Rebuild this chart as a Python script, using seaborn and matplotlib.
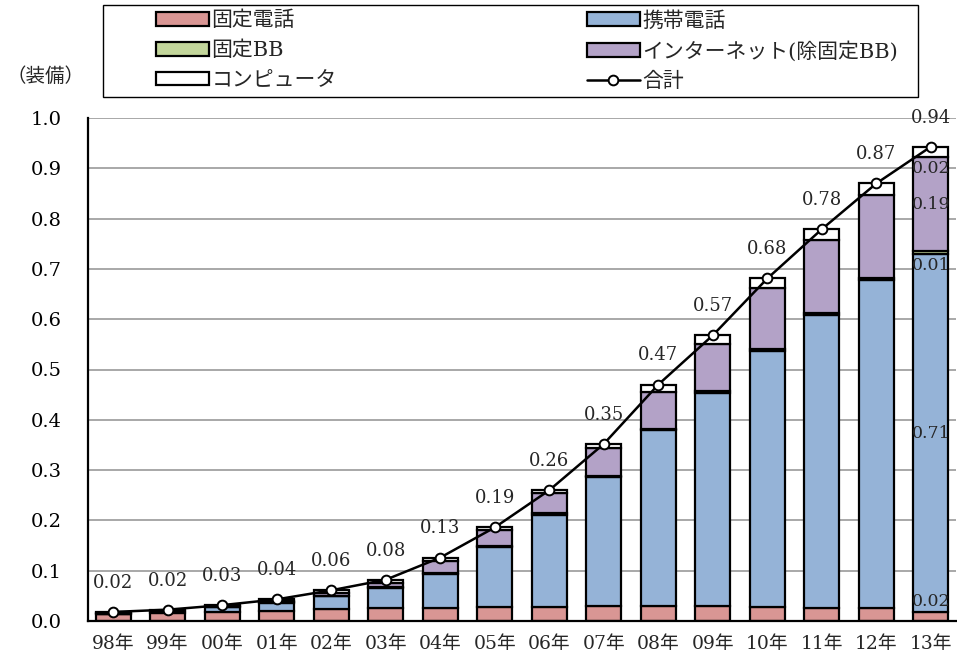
import numpy as np
import pandas as pd
import matplotlib
matplotlib.use("Agg")
import matplotlib.pyplot as plt
from matplotlib.patches import Patch, Rectangle
from matplotlib.lines import Line2D
import seaborn as sns

# ---- data -------------------------------------------------------------
years = ["98年", "99年", "00年", "01年", "02年", "03年", "04年", "05年",
         "06年", "07年", "08年", "09年", "10年", "11年", "12年", "13年"]

fixed_phone  = [0.013, 0.016, 0.018, 0.020, 0.023, 0.025, 0.025, 0.027,
                0.028, 0.030, 0.030, 0.029, 0.027, 0.026, 0.025, 0.018]
mobile_phone = [0.001, 0.003, 0.009, 0.016, 0.026, 0.041, 0.069, 0.120,
                0.183, 0.256, 0.349, 0.425, 0.509, 0.582, 0.652, 0.711]
fixed_bb     = [0.000, 0.0005, 0.0005, 0.001, 0.001, 0.002, 0.002, 0.003,
                0.003, 0.003, 0.003, 0.003, 0.004, 0.004, 0.004, 0.006]
internet     = [0.001, 0.001, 0.002, 0.003, 0.006, 0.008, 0.024, 0.031,
                0.040, 0.054, 0.073, 0.094, 0.123, 0.146, 0.166, 0.188]
computer     = [0.003, 0.002, 0.002, 0.003, 0.005, 0.006, 0.006, 0.005,
                0.006, 0.009, 0.015, 0.017, 0.018, 0.021, 0.023, 0.020]

series_names = ["固定電話", "携帯電話", "固定BB", "インターネット(除固定BB)", "コンピュータ"]
series_colors = ["#D99694", "#95B3D7", "#C3D69B", "#B3A2C7", "#FFFFFF"]
total_name = "合計"
y_ticks = [0.0, 0.1, 0.2, 0.3, 0.4, 0.5, 0.6, 0.7, 0.8, 0.9, 1.0]
unit_label = "（装備）"

# ---- style ------------------------------------------------------------
sns.set_style("white")
plt.rcParams["font.family"] = ["DejaVu Serif", "Noto Sans CJK JP"]
plt.rcParams["axes.unicode_minus"] = False

W, H = 957, 658
fig = plt.figure(figsize=(W / 100, H / 100), dpi=100)
ax = fig.add_axes([88 / W, 37 / H, (956 - 88) / W, (621 - 118) / H])

# ---- stacked bars -----------------------------------------------------
layers = [fixed_phone, mobile_phone, fixed_bb, internet, computer]
base = np.zeros(len(years))
bounds = []
for name, vals, col in zip(series_names, layers, series_colors):
    vals = np.asarray(vals, dtype=float)
    df = pd.DataFrame({"year": years, "value": vals})
    sns.barplot(data=df, x="year", y="value", color=col, saturation=1,
                width=0.64, bottom=base.copy(), edgecolor="black",
                linewidth=1.6, errorbar=None, ax=ax, zorder=2)
    bounds.append((base.copy(), base + vals))
    base = base + vals

totals = base

# ---- total line -------------------------------------------------------
pos = np.arange(len(years))
sns.lineplot(x=pos, y=totals, sort=False, color="black", linewidth=1.8,
             marker="o", markersize=7, markerfacecolor="white",
             markeredgecolor="black", markeredgewidth=1.4, ax=ax, zorder=5)

for x, t in zip(pos, totals):
    ax.annotate(f"{t:.2f}", (x, t), xytext=(0, 21), textcoords="offset points",
                ha="center", va="center", fontsize=13, zorder=6)

# ---- segment labels on the last bar ----------------------------------
last = len(years) - 1
lab_kw = dict(ha="center", fontsize=12.5, zorder=6)
lo, hi = bounds[0][0][last], bounds[0][1][last]
ax.text(last, hi + 0.004, f"{fixed_phone[last]:.2f}", va="bottom", **lab_kw)
lo, hi = bounds[1][0][last], bounds[1][1][last]
ax.text(last, (lo + hi) / 2, f"{mobile_phone[last]:.2f}", va="center", **lab_kw)
lo, hi = bounds[2][0][last], bounds[2][1][last]
ax.text(last, lo - 0.006, f"{fixed_bb[last]:.2f}", va="top", **lab_kw)
lo, hi = bounds[3][0][last], bounds[3][1][last]
ax.text(last, (lo + hi) / 2, f"{internet[last]:.2f}", va="center", **lab_kw)
lo, hi = bounds[4][0][last], bounds[4][1][last]
ax.text(last, lo - 0.006, f"{computer[last]:.2f}", va="top", **lab_kw)

# ---- axes -------------------------------------------------------------
ax.set_xlim(-0.46, len(years) - 0.54)
ax.set_ylim(0, 1.0)
ax.set_yticks(y_ticks)
ax.set_yticklabels([f"{v:.1f}" for v in y_ticks])
ax.set_xlabel("")
ax.set_ylabel("")
ax.set_xticks(pos)
ax.set_xticklabels(years)
ax.set_xticks(pos[:-1] + 0.5, minor=True)

ax.tick_params(axis="y", direction="in", length=5, width=1.5, pad=19,
               labelsize=14, colors="black")
ax.tick_params(axis="x", which="major", length=0, pad=10, labelsize=13.5)
ax.tick_params(axis="x", which="minor", direction="in", length=5, width=1.5)

ax.yaxis.grid(True, color="#9a9a9a", linewidth=1.2, zorder=0)
ax.set_axisbelow(True)
for side in ("top", "right"):
    ax.spines[side].set_visible(False)
for side in ("left", "bottom"):
    ax.spines[side].set_color("black")
    ax.spines[side].set_linewidth(1.6)

# ---- legend -----------------------------------------------------------
patches = [Patch(facecolor=c, edgecolor="black", linewidth=1.6, label=n)
           for n, c in zip(series_names, series_colors)]
total_handle = Line2D([], [], color="black", linewidth=1.8, marker="o",
                      markersize=7, markerfacecolor="white",
                      markeredgecolor="black", markeredgewidth=1.4,
                      label=total_name)
handles = [patches[0], patches[2], patches[4], patches[1], patches[3], total_handle]
fig.legend(handles=handles, labels=[h.get_label() for h in handles], ncol=2,
           loc="center", mode="expand", frameon=False, fontsize=15,
           bbox_to_anchor=(152 / W, (H - 96) / H, (902 - 152) / W, 90 / H),
           handlelength=2.55, handleheight=0.65, handletextpad=0.1,
           labelspacing=0.5, borderaxespad=0, borderpad=0.2)
fig.add_artist(Rectangle((103 / W, (H - 97) / H), (918 - 103) / W, 92 / H,
                         transform=fig.transFigure, fill=False,
                         edgecolor="black", linewidth=1.0))

fig.text(6 / W, 1 - 77 / H, unit_label, ha="left", va="center", fontsize=14)

fig.savefig("out.png", dpi=100)
